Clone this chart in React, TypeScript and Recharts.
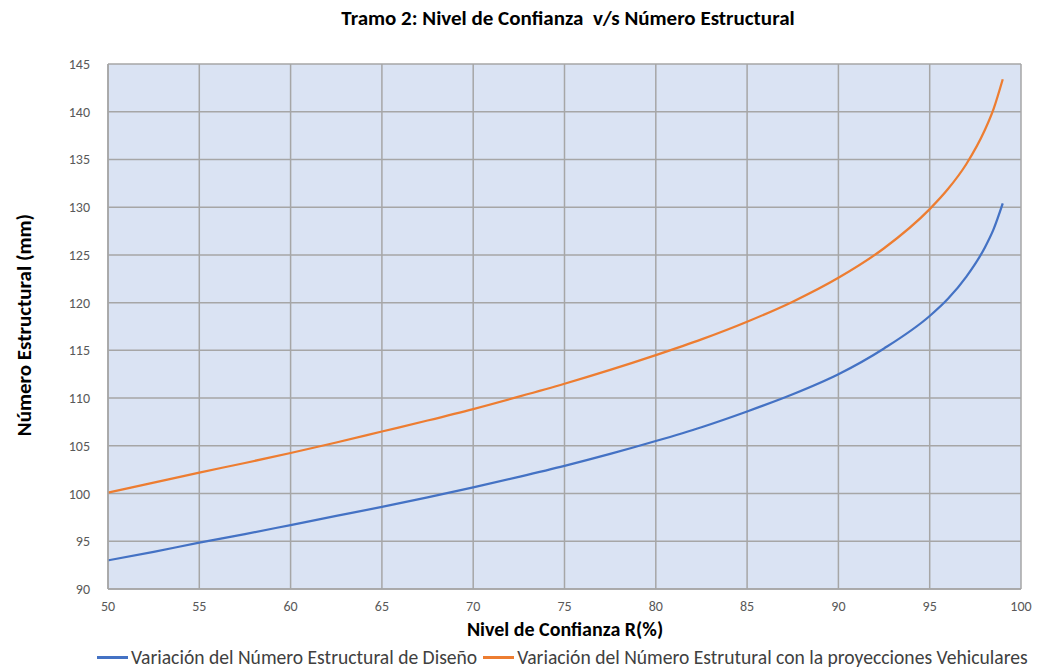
import { LineChart, Line, XAxis, YAxis, CartesianGrid } from "recharts";

const confidence = [50, 52.5, 55, 57.5, 60, 62.5, 65, 67.5, 70, 72.5, 75, 77.5, 80, 82.5, 85, 87.5, 90, 92.5, 95, 96, 97, 98, 98.5, 99];
const designSN = [93.0, 93.9, 94.85, 95.75, 96.7, 97.65, 98.6, 99.6, 100.65, 101.75, 102.9, 104.15, 105.5, 106.95, 108.6, 110.4, 112.5, 115.2, 118.6, 120.4, 122.7, 125.7, 127.7, 130.4];
const projectedSN = [100.1, 101.15, 102.2, 103.2, 104.25, 105.35, 106.5, 107.65, 108.85, 110.15, 111.5, 112.95, 114.5, 116.15, 118.0, 120.1, 122.6, 125.7, 129.8, 131.9, 134.5, 138.0, 140.3, 143.4];

const xTicks = [50, 55, 60, 65, 70, 75, 80, 85, 90, 95, 100];
const yTicks = [90, 95, 100, 105, 110, 115, 120, 125, 130, 135, 140, 145];

const seriesNames = [
  "Variación del Número Estructural de Diseño",
  "Variación del Número Estrutural con la proyecciones Vehiculares",
];
const seriesColors = ["#4472c4", "#ed7d31"];

const data = confidence.map((r, i) => ({ r, design: designSN[i], projected: projectedSN[i] }));

const FONT = "Carlito, 'Liberation Sans Narrow', 'Open Sans', sans-serif";
const GRID = "#a6a6a6";

export default function App() {
  return (
    <div style={{ position: "absolute", left: 0, top: 0, width: 1042, height: 670, background: "#fff", fontFamily: FONT, overflow: "hidden" }}>
      <LineChart width={1042} height={670} data={data} margin={{ top: 64, right: 21, left: 48, bottom: 51 }}>
        <CartesianGrid stroke={GRID} strokeWidth={1.5} fill="#dae3f3" fillOpacity={1} />
        <XAxis
          dataKey="r"
          type="number"
          domain={[50, 100]}
          ticks={xTicks}
          tickLine={false}
          axisLine={{ stroke: GRID, strokeWidth: 1.5 }}
          tick={{ fill: "#595959", fontSize: 14, fontFamily: FONT }}
          tickMargin={6}
          height={30}
        />
        <YAxis
          type="number"
          domain={[90, 145]}
          ticks={yTicks}
          tickLine={false}
          axisLine={{ stroke: GRID, strokeWidth: 1.5 }}
          tick={{ fill: "#595959", fontSize: 14, fontFamily: FONT }}
          tickMargin={12}
          width={60}
        />
        <Line
          type="monotone"
          dataKey="design"
          name={seriesNames[0]}
          stroke={seriesColors[0]}
          strokeWidth={2.25}
          dot={false}
          isAnimationActive={false}
        />
        <Line
          type="monotone"
          dataKey="projected"
          name={seriesNames[1]}
          stroke={seriesColors[1]}
          strokeWidth={2.25}
          dot={false}
          isAnimationActive={false}
        />
      </LineChart>
      <div style={{ position: "absolute", top: 5, left: 0, width: 1136, textAlign: "center", fontSize: 21, fontWeight: "bold", color: "#000", whiteSpace: "pre" }}>
        {"Tramo 2: Nivel de Confianza  v/s Número Estructural"}
      </div>
      <div
        style={{
          position: "absolute",
          left: 24,
          top: 325,
          transform: "translate(-50%, -50%) rotate(-90deg)",
          fontSize: 21,
          fontWeight: "bold",
          whiteSpace: "nowrap",
          color: "#000",
        }}
      >
        Número Estructural (mm)
      </div>
      <div style={{ position: "absolute", top: 617, left: 109, width: 912, textAlign: "center", fontSize: 20, fontWeight: "bold", color: "#000" }}>
        Nivel de Confianza R(%)
      </div>
      <div style={{ position: "absolute", top: 646, left: 97, display: "flex", alignItems: "center", fontSize: 19.6, lineHeight: "22px", color: "#404040", whiteSpace: "nowrap" }}>
        {seriesNames.map((name, i) => (
          <div key={name} style={{ display: "flex", alignItems: "center", marginRight: 6 }}>
            <span style={{ display: "inline-block", width: 31, height: 3, background: seriesColors[i], marginRight: 3 }} />
            <span>{name}</span>
          </div>
        ))}
      </div>
    </div>
  );
}
